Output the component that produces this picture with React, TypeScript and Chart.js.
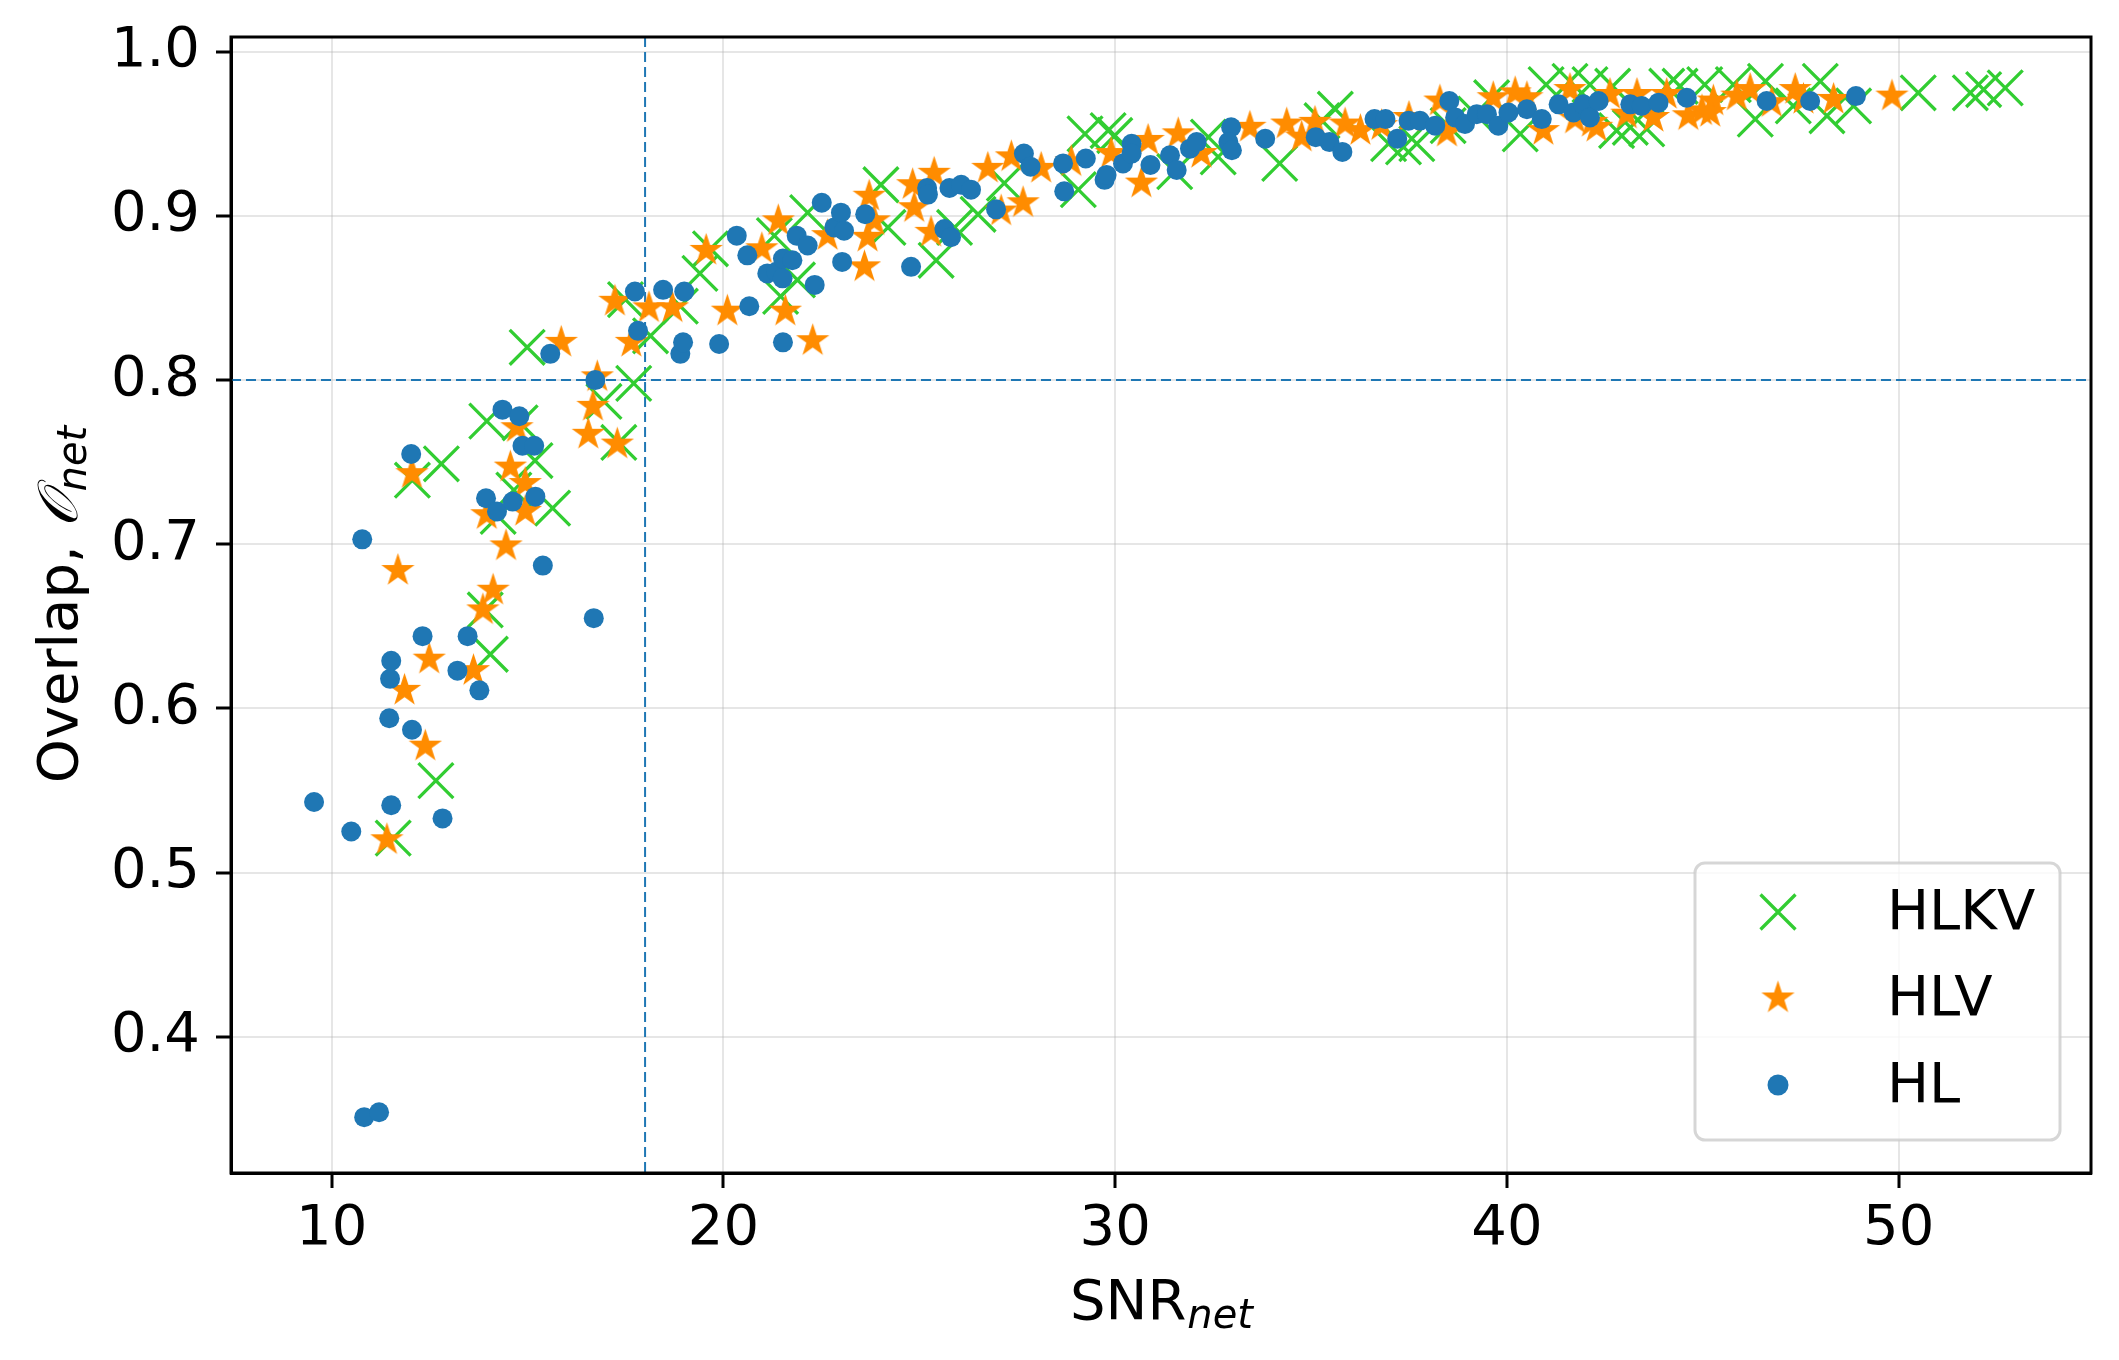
import { useEffect, useRef } from 'react';
import { Chart, registerables } from 'chart.js';

Chart.register(...registerables);

// ---- data ----
const hlSnr = [
  9.55, 10.5, 10.78, 10.83, 11.21, 11.47, 11.49, 11.52, 11.52, 12.03, 12.05, 12.32, 12.83, 13.21, 13.47, 13.77,
  13.94, 14.22, 14.36, 14.62, 14.79, 14.87, 15.17, 15.2, 15.39, 15.58, 16.69, 16.73, 17.74, 17.82, 18.46, 18.9,
  18.97, 19.0, 19.89,
  20.34, 20.61, 20.66, 21.12, 21.35, 21.52, 21.76, 21.51, 21.52, 21.87, 22.15, 22.33, 22.51, 22.83, 23.0, 23.03,
  23.08, 23.62, 24.79, 25.2, 25.22, 25.64, 25.77, 25.81, 26.07, 26.32, 26.96,
  27.67, 27.84, 28.67, 28.7, 29.25, 29.73, 29.78, 30.2, 30.42, 30.42, 30.9, 31.4, 31.57, 31.91, 32.08, 32.96,
  32.89, 32.98, 33.83, 35.12, 35.47, 35.8, 36.62, 36.9,
  37.2, 37.49, 37.78, 38.17, 38.53, 38.68, 38.93, 39.23, 39.49, 39.78, 40.04, 40.51, 40.89, 41.32, 41.7, 41.95,
  42.12, 42.34, 43.15, 43.44, 43.87, 44.59,
  46.63, 47.74, 48.91,
];
const hlOverlap = [
  0.543, 0.525, 0.703, 0.351, 0.354, 0.594, 0.618, 0.629, 0.541, 0.755, 0.587, 0.644, 0.533, 0.623, 0.644, 0.611,
  0.728, 0.72, 0.782, 0.726, 0.778, 0.76, 0.76, 0.729, 0.687, 0.816, 0.655, 0.8, 0.854, 0.83, 0.855, 0.816,
  0.823, 0.854, 0.822,
  0.888, 0.876, 0.845, 0.865, 0.866, 0.874, 0.873, 0.862, 0.823, 0.888, 0.882, 0.858, 0.908, 0.893, 0.902, 0.872,
  0.891, 0.901, 0.869, 0.917, 0.913, 0.892, 0.917, 0.887, 0.919, 0.916, 0.904,
  0.938, 0.93, 0.932, 0.915, 0.935, 0.922, 0.925, 0.932, 0.944, 0.938, 0.931, 0.937, 0.928, 0.941, 0.945, 0.954,
  0.945, 0.94, 0.947, 0.948, 0.945, 0.939, 0.959, 0.959,
  0.947, 0.958, 0.958, 0.955, 0.97, 0.96, 0.956, 0.962, 0.962, 0.955, 0.963, 0.965, 0.959, 0.968, 0.963, 0.968,
  0.96, 0.97, 0.968, 0.967, 0.969, 0.972,
  0.97, 0.97, 0.973,
];

const hlvSnr = [
  11.41, 11.69, 11.86, 12.05, 12.39, 12.49, 13.62, 13.86, 13.96, 14.12, 14.45, 14.56, 14.73, 14.94, 14.94, 15.86,
  16.55, 16.67, 16.78, 17.23, 17.29, 17.65, 18.1, 18.7,
  19.56, 20.1, 20.98, 21.4, 21.58, 22.28, 22.66, 23.6, 23.72, 23.85, 23.68, 24.83, 24.87, 25.3, 25.38, 26.75, 27.09,
  27.35, 27.65, 28.11, 28.88, 29.9, 30.67, 30.84, 31.61, 32.2, 33.44, 34.38, 34.76, 35.1, 35.87, 36.26, 36.8, 37.5,
  38.29, 38.47, 39.65, 40.21, 40.51, 40.93, 41.61, 41.74, 42.17, 42.29, 42.63, 43.06, 43.32, 43.74, 44.08, 44.63,
  44.98, 45.27, 45.19, 45.87, 46.21, 46.76, 47.36, 47.57, 48.34, 49.83,
];
const hlvOverlap = [
  0.52, 0.684, 0.611, 0.743, 0.577, 0.63, 0.623, 0.66, 0.718, 0.672, 0.699, 0.747, 0.771, 0.737, 0.72, 0.823,
  0.767, 0.784, 0.802, 0.848, 0.761, 0.823, 0.844, 0.844,
  0.879, 0.842, 0.88, 0.897, 0.842, 0.824, 0.888, 0.869, 0.912, 0.897, 0.887, 0.919, 0.905, 0.89, 0.926, 0.929, 0.903,
  0.936, 0.908, 0.929, 0.933, 0.938, 0.92, 0.946, 0.95, 0.938, 0.954, 0.956, 0.948, 0.957, 0.956, 0.952, 0.955, 0.96,
  0.97, 0.951, 0.972, 0.975, 0.972, 0.952, 0.977, 0.959, 0.957, 0.954, 0.974, 0.962, 0.974, 0.96, 0.974, 0.961,
  0.964, 0.97, 0.963, 0.973, 0.977, 0.969, 0.977, 0.971, 0.971, 0.973,
];

const hlkvSnr = [
  11.57, 12.06, 12.66, 12.8, 13.92, 13.96, 14.05, 14.25, 14.65, 14.81, 14.99, 15.19, 15.64, 16.95, 17.33, 17.5,
  17.71, 18.14, 18.9, 19.4, 19.67,
  21.3, 21.46, 21.89, 22.15, 24.02, 24.2, 25.43, 25.9, 26.5, 27.17,
  29.06, 29.23, 29.82, 29.99, 31.52, 32.38, 32.63, 34.2, 35.28, 35.62, 36.98,
  37.36, 37.7, 38.5, 39.2, 39.61, 40.34, 41.0, 41.61, 42.12, 42.7, 42.8, 43.15, 43.57, 44.08, 44.42, 45.05, 45.78,
  46.34, 46.6, 47.31, 48.0, 48.17, 48.85, 50.5, 51.83, 52.17, 52.72,
];
const hlkvOverlap = [
  0.521, 0.739, 0.556, 0.749, 0.66, 0.775, 0.633, 0.717, 0.733, 0.774, 0.82, 0.751, 0.722, 0.787, 0.762, 0.849,
  0.798, 0.827, 0.845, 0.865, 0.88,
  0.888, 0.851, 0.861, 0.902, 0.919, 0.893, 0.873, 0.893, 0.901, 0.92,
  0.916, 0.95, 0.952, 0.949, 0.927, 0.948, 0.936, 0.932, 0.958, 0.965, 0.944,
  0.942, 0.944, 0.955, 0.962, 0.972, 0.95, 0.98, 0.982, 0.98, 0.979, 0.952, 0.954, 0.953, 0.979, 0.979, 0.98, 0.98,
  0.959, 0.982, 0.967, 0.982, 0.961, 0.967, 0.975, 0.975, 0.977, 0.978,
];

const seriesLabels = ['HLKV', 'HLV', 'HL'];
const xTicks = [10, 20, 30, 40, 50];
const yTicks = [0.4, 0.5, 0.6, 0.7, 0.8, 0.9, 1.0];
const xRange = [7.43, 54.91];
const yRange = [0.317, 1.009];
const snrThreshold = 18;
const overlapThreshold = 0.8;

const BLUE = '#1f77b4';
const ORANGE = '#ff8c00';
const GREEN = '#32cd32';
const FONT = '"DejaVu Sans", "Liberation Sans", sans-serif';

function toPoints(xs: number[], ys: number[]) {
  return xs.map((x, i) => ({ x, y: ys[i] }));
}

function makeStar(R: number, color: string) {
  const size = Math.ceil(2 * R + 4);
  const c = document.createElement('canvas');
  c.width = size;
  c.height = size;
  const ctx = c.getContext('2d')!;
  const cx = size / 2;
  const cy = size / 2;
  ctx.beginPath();
  for (let i = 0; i < 10; i++) {
    const a = -Math.PI / 2 + (i * Math.PI) / 5;
    const r = i % 2 === 0 ? R : R * 0.381966;
    const px = cx + r * Math.cos(a);
    const py = cy + r * Math.sin(a);
    if (i === 0) ctx.moveTo(px, py);
    else ctx.lineTo(px, py);
  }
  ctx.closePath();
  ctx.fillStyle = color;
  ctx.fill();
  return c;
}

export default function App() {
  const ref = useRef<HTMLCanvasElement | null>(null);

  useEffect(() => {
    document.body.style.margin = '0';
    const canvas = ref.current!;
    const star = makeStar(17.5, ORANGE);

    const overlayPlugin = {
      id: 'overlay',
      beforeDatasetsDraw(chart: any) {
        const { ctx, chartArea } = chart;
        const xs = chart.scales.x;
        const ys = chart.scales.y;
        ctx.save();
        ctx.strokeStyle = BLUE;
        ctx.lineWidth = 2;
        ctx.setLineDash([10, 5]);
        const vx = xs.getPixelForValue(snrThreshold);
        ctx.beginPath();
        ctx.moveTo(vx, chartArea.top);
        ctx.lineTo(vx, chartArea.bottom);
        ctx.stroke();
        const hy = ys.getPixelForValue(overlapThreshold);
        ctx.beginPath();
        ctx.moveTo(chartArea.left, hy);
        ctx.lineTo(chartArea.right, hy);
        ctx.stroke();
        ctx.restore();
      },
      afterDraw(chart: any) {
        const { ctx, chartArea } = chart;
        ctx.save();
        // frame
        ctx.strokeStyle = '#000';
        ctx.lineWidth = 3;
        ctx.strokeRect(chartArea.left, chartArea.top, chartArea.right - chartArea.left, chartArea.bottom - chartArea.top);

        // x title
        const main = `56px ${FONT}`;
        const sub = `italic 40px ${FONT}`;
        ctx.fillStyle = '#000';
        ctx.textBaseline = 'alphabetic';
        ctx.textAlign = 'left';
        ctx.font = main;
        const w1 = ctx.measureText('SNR').width;
        ctx.font = sub;
        const w2 = ctx.measureText('net').width;
        const cx = (chartArea.left + chartArea.right) / 2;
        const x0 = cx - (w1 + w2) / 2;
        ctx.font = main;
        ctx.fillText('SNR', x0, 1319);
        ctx.font = sub;
        ctx.fillText('net', x0 + w1 + 1, 1328);

        // y title
        ctx.save();
        const cy = (chartArea.top + chartArea.bottom) / 2;
        ctx.translate(77, cy);
        ctx.rotate(-Math.PI / 2);
        ctx.font = main;
        const a = 'Overlap, ';
        const wa = ctx.measureText(a).width;
        ctx.font = `italic 56px ${FONT}`;
        const ob = '\u{1D4AA}';
        const wb = ctx.measureText(ob).width;
        ctx.font = sub;
        const wc = ctx.measureText('net').width;
        const sx = -(wa + wb + wc) / 2;
        ctx.font = main;
        ctx.fillText(a, sx, 0);
        ctx.font = `italic 56px ${FONT}`;
        ctx.fillText(ob, sx + wa, 0);
        ctx.font = sub;
        ctx.fillText('net', sx + wa + wb + 1, 9);
        ctx.restore();

        // legend
        const bx = 1695, by = 863, bw = 365, bh = 277, br = 10;
        ctx.beginPath();
        ctx.moveTo(bx + br, by);
        ctx.arcTo(bx + bw, by, bx + bw, by + bh, br);
        ctx.arcTo(bx + bw, by + bh, bx, by + bh, br);
        ctx.arcTo(bx, by + bh, bx, by, br);
        ctx.arcTo(bx, by, bx + bw, by, br);
        ctx.closePath();
        ctx.fillStyle = 'rgba(255,255,255,0.8)';
        ctx.fill();
        ctx.strokeStyle = 'rgba(204,204,204,0.8)';
        ctx.lineWidth = 3;
        ctx.stroke();

        const mx = 1778;
        const rows = [912, 998, 1085];
        ctx.strokeStyle = GREEN;
        ctx.lineWidth = 3.3;
        const h = 17.5;
        ctx.beginPath();
        ctx.moveTo(mx - h, rows[0] - h);
        ctx.lineTo(mx + h, rows[0] + h);
        ctx.moveTo(mx - h, rows[0] + h);
        ctx.lineTo(mx + h, rows[0] - h);
        ctx.stroke();
        ctx.drawImage(star, mx - star.width / 2, rows[1] - star.height / 2);
        ctx.fillStyle = BLUE;
        ctx.beginPath();
        ctx.arc(mx, rows[2], 10.5, 0, Math.PI * 2);
        ctx.fill();

        ctx.fillStyle = '#000';
        ctx.font = main;
        ctx.textBaseline = 'middle';
        seriesLabels.forEach((t, i) => ctx.fillText(t, 1887, rows[i] + 2));
        ctx.restore();
      },
    };

    const chart = new Chart(canvas, {
      type: 'scatter',
      data: {
        datasets: [
          {
            label: seriesLabels[2],
            data: toPoints(hlSnr, hlOverlap),
            pointStyle: 'circle',
            pointRadius: 10,
            backgroundColor: BLUE,
            borderColor: BLUE,
            borderWidth: 0,
          },
          {
            label: seriesLabels[1],
            data: toPoints(hlvSnr, hlvOverlap),
            pointStyle: star as any,
            pointRadius: 17,
            backgroundColor: ORANGE,
            borderColor: ORANGE,
            borderWidth: 0,
          },
          {
            label: seriesLabels[0],
            data: toPoints(hlkvSnr, hlkvOverlap),
            pointStyle: 'crossRot',
            pointRadius: 24.7,
            backgroundColor: GREEN,
            borderColor: GREEN,
            borderWidth: 3.3,
          },
        ],
      },
      options: {
        responsive: false,
        animation: false,
        devicePixelRatio: 1,
        events: [],
        layout: { padding: { left: 0, top: 37, right: 28, bottom: 0 } },
        plugins: { legend: { display: false }, tooltip: { enabled: false } },
        scales: {
          x: {
            type: 'linear',
            min: xRange[0],
            max: xRange[1],
            afterFit: (s: any) => { s.height = 187; s.paddingLeft = 0; s.paddingRight = 0; },
            afterBuildTicks: (s: any) => { s.ticks = xTicks.map((v) => ({ value: v })); },
            ticks: {
              autoSkip: false,
              maxRotation: 0,
              padding: 8,
              color: '#000',
              font: { family: FONT, size: 56 },
              callback: (v: any) => String(v),
            },
            grid: {
              color: 'rgba(176,176,176,0.32)',
              lineWidth: 2,
              tickLength: 15,
              tickColor: '#000',
              tickWidth: 3,
            } as any,
            border: { display: true, color: '#000', width: 3 },
          },
          y: {
            type: 'linear',
            min: yRange[0],
            max: yRange[1],
            afterFit: (s: any) => { s.width = 231; s.paddingTop = 0; s.paddingBottom = 0; },
            afterBuildTicks: (s: any) => { s.ticks = yTicks.map((v) => ({ value: v })); },
            ticks: {
              autoSkip: false,
              padding: 16,
              color: '#000',
              font: { family: FONT, size: 56 },
              callback: (v: any) => Number(v).toFixed(1),
            },
            grid: {
              color: 'rgba(176,176,176,0.32)',
              lineWidth: 2,
              tickLength: 15,
              tickColor: '#000',
              tickWidth: 3,
            } as any,
            border: { display: true, color: '#000', width: 3 },
          },
        },
      },
      plugins: [overlayPlugin],
    } as any);

    return () => chart.destroy();
  }, []);

  return (
    <canvas
      ref={ref}
      width={2119}
      height={1360}
      style={{ display: 'block', width: '2119px', height: '1360px' }}
    />
  );
}
